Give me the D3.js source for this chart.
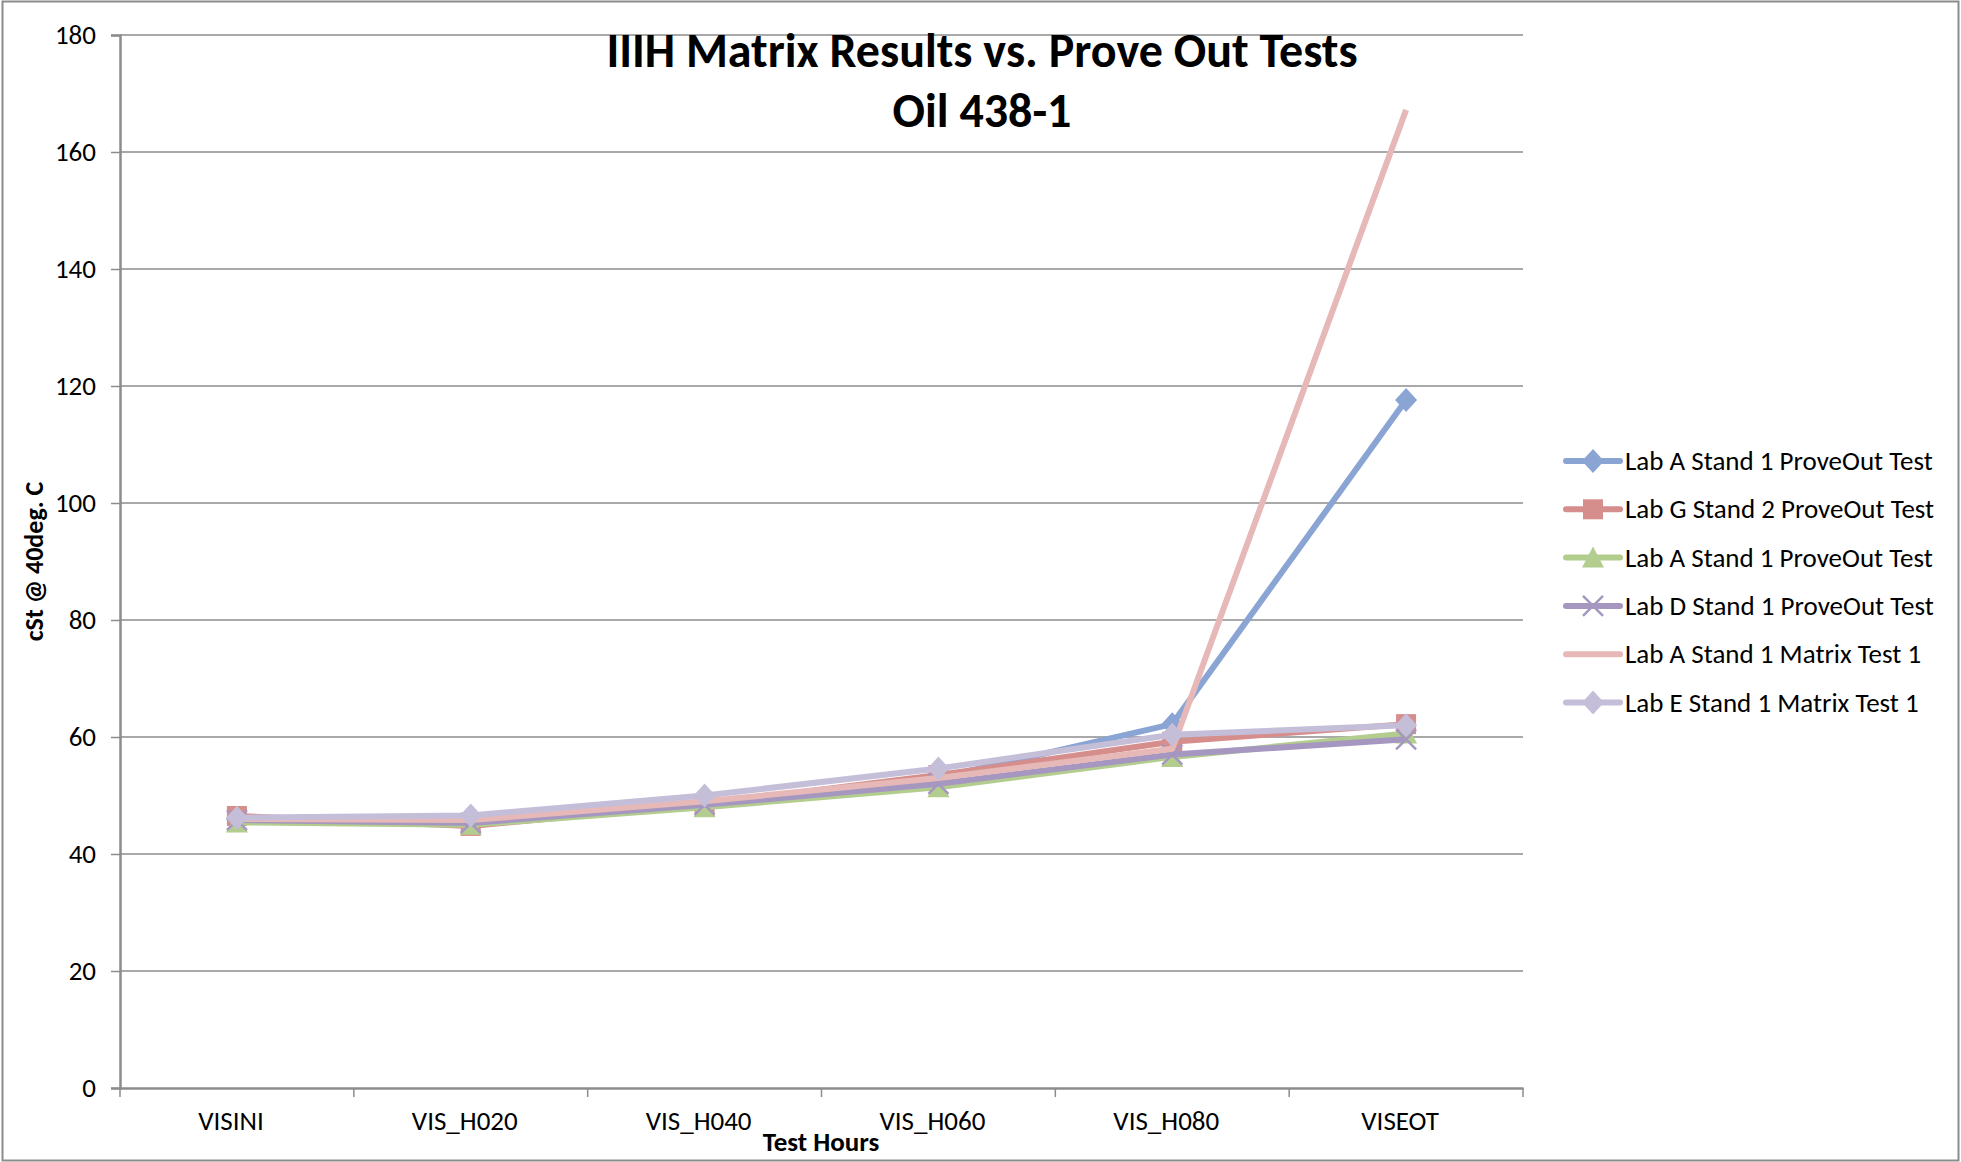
<!DOCTYPE html>
<html>
<head>
<meta charset="utf-8">
<script src="https://cdnjs.cloudflare.com/ajax/libs/d3/7.8.5/d3.min.js"></script>
<style>
  body { margin: 0; background: #fff; }
  svg { display: block; font-family: Carlito, Lato, "Open Sans", sans-serif; }
</style>
</head>
<body>
<svg></svg>
<script>
'use strict';
// chart data
var categories = ['VISINI', 'VIS_H020', 'VIS_H040', 'VIS_H060', 'VIS_H080', 'VISEOT'];
var seriesNames = [
    'Lab A Stand 1 ProveOut Test',
    'Lab G Stand 2 ProveOut Test',
    'Lab A Stand 1 ProveOut Test',
    'Lab D Stand 1 ProveOut Test',
    'Lab A Stand 1 Matrix Test 1',
    'Lab E Stand 1 Matrix Test 1'
];
var labA1 = [46.0, 45.5, 48.5, 53.0, 62.2, 117.6];
var labG2 = [46.5, 44.8, 48.5, 53.5, 59.2, 62.2];
var labA1b = [45.4, 45.0, 48.0, 51.4, 56.6, 60.6];
var labD1 = [45.8, 45.3, 48.4, 52.0, 57.0, 59.6];
var labAMatrix = [46.0, 45.8, 49.0, 53.0, 58.0, 167.2];
var labEMatrix = [46.2, 46.6, 50.0, 54.6, 60.4, 62.0];
var yTicks = [0, 20, 40, 60, 80, 100, 120, 140, 160, 180];

var allValues = [labA1, labG2, labA1b, labD1, labAMatrix, labEMatrix];
var colors = ['#8aa4d3', '#d58e8c', '#b3cd8e', '#a597c0', '#e6b9b8', '#c5bed9'];
var markers = ['diamond', 'square', 'triangle', 'cross', 'none', 'diamond'];

var canvasWidth = 1961;
var canvasHeight = 1162;
var margin = { top: 35, left: 120 };
var plotW = 1523 - 120;
var plotH = 1088 - 35;

var svg = d3.select('svg')
    .attr('width', canvasWidth)
    .attr('height', canvasHeight);

// outer border
svg.append('rect')
    .attr('x', 2.5).attr('y', 1.5)
    .attr('width', canvasWidth - 5).attr('height', canvasHeight - 3)
    .attr('fill', 'none').attr('stroke', '#8c8c8c').attr('stroke-width', 2);

var g = svg.append('g')
    .attr('transform', 'translate(' + margin.left + ',' + margin.top + ')');

var xScale = d3.scaleBand().domain(categories).range([0, plotW]);
var yScale = d3.scaleLinear().domain([0, 180]).range([plotH, 0]);

// gridlines
g.selectAll('.grid').data(yTicks.filter(function (d) { return d > 0; }))
    .enter().append('line')
    .attr('x1', 0).attr('x2', plotW)
    .attr('y1', function (d) { return yScale(d); })
    .attr('y2', function (d) { return yScale(d); })
    .attr('stroke', '#8c8c8c').attr('stroke-width', 1.5);

// y axis
var yAxis = d3.axisLeft(yScale).tickValues(yTicks).tickSize(9).tickPadding(15);
var yg = g.append('g').call(yAxis);
yg.select('.domain').attr('stroke', '#8c8c8c').attr('stroke-width', 2.5);
yg.selectAll('.tick line').attr('stroke', '#8c8c8c').attr('stroke-width', 1.5);
yg.selectAll('.tick text').attr('font-size', 27).attr('fill', '#000')
    .attr('font-family', 'Carlito, Lato, sans-serif');

// x axis
var xAxis = d3.axisBottom(xScale).tickSize(0).tickPadding(23);
var xg = g.append('g').attr('transform', 'translate(0,' + plotH + ')').call(xAxis);
xg.select('.domain').attr('stroke', '#8c8c8c').attr('stroke-width', 2.5);
xg.selectAll('.tick text').attr('font-size', 27).attr('fill', '#000')
    .attr('font-family', 'Carlito, Lato, sans-serif')
    .attr('dx', -6);
// category boundary ticks
var bounds = categories.map(function (c) { return xScale(c); }).concat([plotW]);
xg.selectAll('.btick').data(bounds).enter().append('line')
    .attr('x1', function (d) { return d; }).attr('x2', function (d) { return d; })
    .attr('y1', 0).attr('y2', 9)
    .attr('stroke', '#8c8c8c').attr('stroke-width', 1.5);

// axis titles
svg.append('text')
    .attr('transform', 'translate(43,' + (margin.top + plotH / 2) + ') rotate(-90)')
    .attr('text-anchor', 'middle')
    .attr('font-size', 26).attr('font-weight', 'bold')
    .text('cSt @ 40deg. C');
svg.append('text')
    .attr('x', 821).attr('y', 1151)
    .attr('text-anchor', 'middle')
    .attr('font-size', 27).attr('font-weight', 'bold')
    .text('Test Hours');

// title
svg.append('text')
    .attr('x', 982).attr('y', 67)
    .attr('text-anchor', 'middle')
    .attr('font-size', 48).attr('font-weight', 'bold')
    .text('IIIH Matrix Results vs. Prove Out Tests');
svg.append('text')
    .attr('x', 982).attr('y', 127)
    .attr('text-anchor', 'middle')
    .attr('font-size', 48).attr('font-weight', 'bold')
    .text('Oil 438-1');

function drawMarker(sel, type, color) {
    if (type === 'diamond') {
        sel.append('path').attr('d', 'M0,-12L11,0L0,12L-11,0Z').attr('fill', color);
    } else if (type === 'square') {
        sel.append('rect').attr('x', -10).attr('y', -10).attr('width', 20).attr('height', 20).attr('fill', color);
    } else if (type === 'triangle') {
        sel.append('path').attr('d', 'M0,-11L11,10L-11,10Z').attr('fill', color);
    } else if (type === 'cross') {
        sel.append('path').attr('d', 'M-10,-10L10,10M-10,10L10,-10')
            .attr('stroke', color).attr('stroke-width', 2.5).attr('fill', 'none');
    }
}

var line = d3.line()
    .x(function (d, i) { return xScale(categories[i]) + xScale.bandwidth() / 2; })
    .y(function (d) { return yScale(d); });

allValues.forEach(function (vals, si) {
    var sg = g.append('g');
    sg.append('path').datum(vals)
        .attr('d', line)
        .attr('fill', 'none')
        .attr('stroke', colors[si])
        .attr('stroke-width', 6)
        .attr('stroke-linejoin', 'round');
    vals.forEach(function (v, i) {
        var m = sg.append('g')
            .attr('transform', 'translate(' + (xScale(categories[i]) + xScale.bandwidth() / 2) + ',' + yScale(v) + ')');
        drawMarker(m, markers[si], colors[si]);
    });
});

// legend
var legend = svg.append('g');
seriesNames.forEach(function (name, i) {
    var ly = 461 + i * 48.3;
    var lg = legend.append('g').attr('transform', 'translate(0,' + ly + ')');
    lg.append('line')
        .attr('x1', 1566).attr('x2', 1620)
        .attr('y1', 0).attr('y2', 0)
        .attr('stroke', colors[i]).attr('stroke-width', 6).attr('stroke-linecap', 'round');
    var mk = lg.append('g').attr('transform', 'translate(1593,0)');
    drawMarker(mk, markers[i], colors[i]);
    lg.append('text')
        .attr('x', 1625).attr('y', 9)
        .attr('font-size', 27)
        .text(name);
});
</script>
</body>
</html>
